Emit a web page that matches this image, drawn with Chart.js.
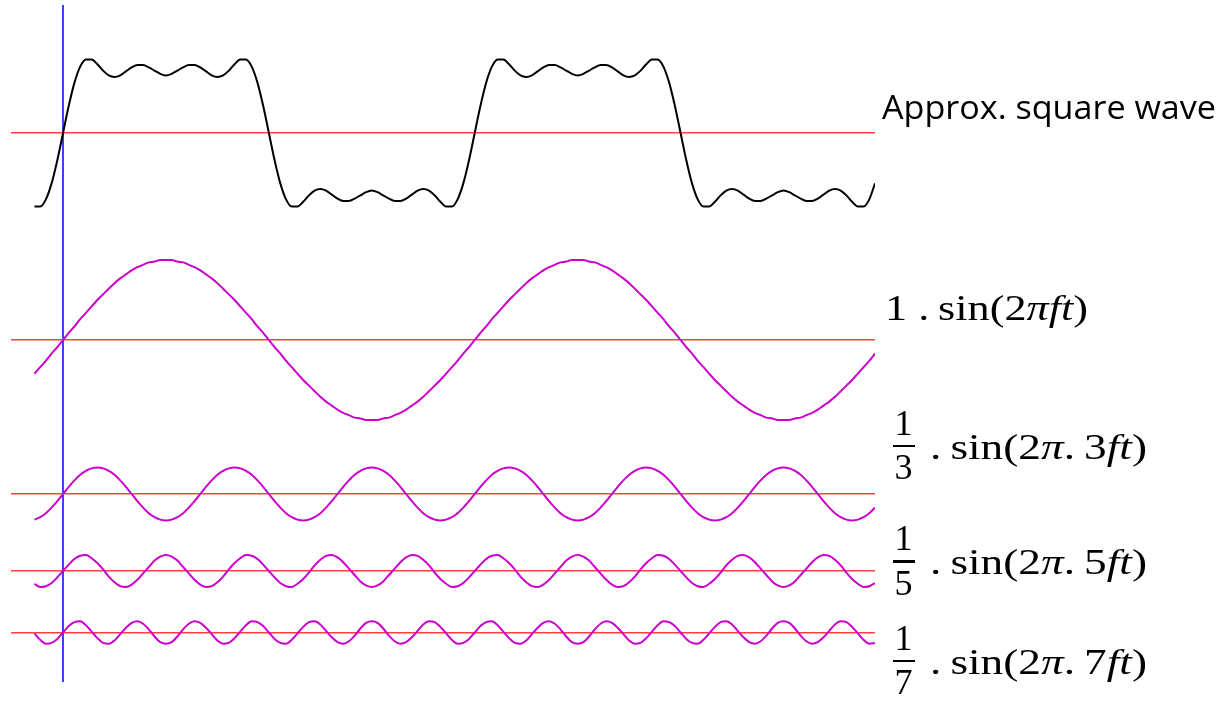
<!DOCTYPE html>
<html>
<head>
<meta charset="utf-8">
<script src="https://cdn.jsdelivr.net/npm/chart.js@4.4.1/dist/chart.umd.min.js"></script>
<style>
  html, body { margin: 0; padding: 0; background: #fff; }
  #wrap { position: relative; width: 1226px; height: 705px; overflow: hidden; }
  #wrap canvas { position: absolute; left: 0; top: 0; }
  .lbl { position: absolute; white-space: nowrap; line-height: 1; transform-origin: 0 0; color: #000; }
  .sans { font-family: "Open Sans", Lato, sans-serif; font-size: 33px; }
  .math { font-family: "Liberation Serif", "DejaVu Serif", serif; font-size: 36px; }
  .math i { font-style: italic; }
  .bl { display: inline-block; width: 0; height: 0; }
  .bar { position: absolute; background: #000; }
</style>
</head>
<body>
<div id="wrap"><canvas id="chart" width="1226" height="705"></canvas></div>
<script>
// phase in degrees of the fundamental (blue marker sits at 0)
const phaseDeg = [
  -25, -20, -15, -10, -5,
  0, 5, 10, 15, 20, 25, 30, 35, 40, 45, 50, 55, 60, 65, 70, 75, 80, 85, 90, 95, 100, 105, 110, 115, 120, 125, 130, 135, 140, 145, 150, 155, 160, 165, 170, 175,
  180, 185, 190, 195, 200, 205, 210, 215, 220, 225, 230, 235, 240, 245, 250, 255, 260, 265, 270, 275, 280, 285, 290, 295, 300, 305, 310, 315, 320, 325, 330, 335, 340, 345, 350, 355,
  360, 365, 370, 375, 380, 385, 390, 395, 400, 405, 410, 415, 420, 425, 430, 435, 440, 445, 450, 455, 460, 465, 470, 475, 480, 485, 490, 495, 500, 505, 510, 515, 520, 525, 530, 535,
  540, 545, 550, 555, 560, 565, 570, 575, 580, 585, 590, 595, 600, 605, 610, 615, 620, 625, 630, 635, 640, 645, 650, 655, 660, 665, 670, 675, 680, 685, 690, 695, 700, 705, 710
];

// approx. square wave (sum of the four harmonics)
const squareWave = [
  -.92, -.92, -.83, -.63, -.34,
  0, .34, .63, .83, .92, .92, .86, .78, .72, .7, .72, .77, .82, .85, .85, .82, .78, .74, .72, .74, .78, .82, .85, .85, .82, .77, .72, .7, .72, .78, .86, .92, .92, .83, .63, .34,
  0, -.34, -.63, -.83, -.92, -.92, -.86, -.78, -.72, -.7, -.72, -.77, -.82, -.85, -.85, -.82, -.78, -.74, -.72, -.74, -.78, -.82, -.85, -.85, -.82, -.77, -.72, -.7, -.72, -.78, -.86, -.92, -.92, -.83, -.63, -.34,
  0, .34, .63, .83, .92, .92, .86, .78, .72, .7, .72, .77, .82, .85, .85, .82, .78, .74, .72, .74, .78, .82, .85, .85, .82, .77, .72, .7, .72, .78, .86, .92, .92, .83, .63, .34,
  0, -.34, -.63, -.83, -.92, -.92, -.86, -.78, -.72, -.7, -.72, -.77, -.82, -.85, -.85, -.82, -.78, -.74, -.72, -.74, -.78, -.82, -.85, -.85, -.82, -.77, -.72, -.7, -.72, -.78, -.86, -.92, -.92, -.83, -.63
];

// 1 . sin(2πft)
const harm1 = [
  -.42, -.34, -.26, -.17, -.09,
  0, .09, .17, .26, .34, .42, .5, .57, .64, .71, .77, .82, .87, .91, .94, .97, .98, 1, 1, 1, .98, .97, .94, .91, .87, .82, .77, .71, .64, .57, .5, .42, .34, .26, .17, .09,
  0, -.09, -.17, -.26, -.34, -.42, -.5, -.57, -.64, -.71, -.77, -.82, -.87, -.91, -.94, -.97, -.98, -1, -1, -1, -.98, -.97, -.94, -.91, -.87, -.82, -.77, -.71, -.64, -.57, -.5, -.42, -.34, -.26, -.17, -.09,
  0, .09, .17, .26, .34, .42, .5, .57, .64, .71, .77, .82, .87, .91, .94, .97, .98, 1, 1, 1, .98, .97, .94, .91, .87, .82, .77, .71, .64, .57, .5, .42, .34, .26, .17, .09,
  0, -.09, -.17, -.26, -.34, -.42, -.5, -.57, -.64, -.71, -.77, -.82, -.87, -.91, -.94, -.97, -.98, -1, -1, -1, -.98, -.97, -.94, -.91, -.87, -.82, -.77, -.71, -.64, -.57, -.5, -.42, -.34, -.26, -.17
];

// 1/3 . sin(2π.3ft)
const harm3 = [
  -.32, -.29, -.24, -.17, -.09,
  0, .09, .17, .24, .29, .32, .33, .32, .29, .24, .17, .09, 0, -.09, -.17, -.24, -.29, -.32, -.33, -.32, -.29, -.24, -.17, -.09, 0, .09, .17, .24, .29, .32, .33, .32, .29, .24, .17, .09,
  0, -.09, -.17, -.24, -.29, -.32, -.33, -.32, -.29, -.24, -.17, -.09, 0, .09, .17, .24, .29, .32, .33, .32, .29, .24, .17, .09, 0, -.09, -.17, -.24, -.29, -.32, -.33, -.32, -.29, -.24, -.17, -.09,
  0, .09, .17, .24, .29, .32, .33, .32, .29, .24, .17, .09, 0, -.09, -.17, -.24, -.29, -.32, -.33, -.32, -.29, -.24, -.17, -.09, 0, .09, .17, .24, .29, .32, .33, .32, .29, .24, .17, .09,
  0, -.09, -.17, -.24, -.29, -.32, -.33, -.32, -.29, -.24, -.17, -.09, 0, .09, .17, .24, .29, .32, .33, .32, .29, .24, .17, .09, 0, -.09, -.17, -.24, -.29, -.32, -.33, -.32, -.29, -.24, -.17
];

// 1/5 . sin(2π.5ft)
const harm5 = [
  -.16, -.2, -.19, -.15, -.08,
  0, .08, .15, .19, .2, .16, .1, .02, -.07, -.14, -.19, -.2, -.17, -.11, -.03, .05, .13, .18, .2, .18, .13, .05, -.03, -.11, -.17, -.2, -.19, -.14, -.07, .02, .1, .16, .2, .19, .15, .08,
  0, -.08, -.15, -.19, -.2, -.16, -.1, -.02, .07, .14, .19, .2, .17, .11, .03, -.05, -.13, -.18, -.2, -.18, -.13, -.05, .03, .11, .17, .2, .19, .14, .07, -.02, -.1, -.16, -.2, -.19, -.15, -.08,
  0, .08, .15, .19, .2, .16, .1, .02, -.07, -.14, -.19, -.2, -.17, -.11, -.03, .05, .13, .18, .2, .18, .13, .05, -.03, -.11, -.17, -.2, -.19, -.14, -.07, .02, .1, .16, .2, .19, .15, .08,
  0, -.08, -.15, -.19, -.2, -.16, -.1, -.02, .07, .14, .19, .2, .17, .11, .03, -.05, -.13, -.18, -.2, -.18, -.13, -.05, .03, .11, .17, .2, .19, .14, .07, -.02, -.1, -.16, -.2, -.19, -.15
];

// 1/7 . sin(2π.7ft)
const harm7 = [
  -.01, -.09, -.14, -.13, -.08,
  0, .08, .13, .14, .09, .01, -.07, -.13, -.14, -.1, -.02, .06, .12, .14, .11, .04, -.05, -.12, -.14, -.12, -.05, .04, .11, .14, .12, .06, -.02, -.1, -.14, -.13, -.07, .01, .09, .14, .13, .08,
  0, -.08, -.13, -.14, -.09, -.01, .07, .13, .14, .1, .02, -.06, -.12, -.14, -.11, -.04, .05, .12, .14, .12, .05, -.04, -.11, -.14, -.12, -.06, .02, .1, .14, .13, .07, -.01, -.09, -.14, -.13, -.08,
  0, .08, .13, .14, .09, .01, -.07, -.13, -.14, -.1, -.02, .06, .12, .14, .11, .04, -.05, -.12, -.14, -.12, -.05, .04, .11, .14, .12, .06, -.02, -.1, -.14, -.13, -.07, .01, .09, .14, .13, .08,
  0, -.08, -.13, -.14, -.09, -.01, .07, .13, .14, .1, .02, -.06, -.12, -.14, -.11, -.04, .05, .12, .14, .12, .05, -.04, -.11, -.14, -.12, -.06, .02, .1, .14, .13, .07, -.01, -.09, -.14, -.13
];

const BLACK = "#000000";
const MAGENTA = "#cc00cc";
const RED = "#ff4040";
const BLUE = "#4040ff";

// every trace gets its own (hidden) y axis, all at 80 px per unit,
// so only the zero line moves; the zero line is the red baseline
function traceAxis(min, max) {
  return {
    type: "linear",
    min: min,
    max: max,
    afterBuildTicks: (scale) => { scale.ticks = [{ value: 0 }]; },
    ticks: { display: false },
    grid: { color: RED, lineWidth: 1.5, drawTicks: false },
    border: { display: false },
  };
}

function trace(values, color, axis) {
  return {
    data: phaseDeg.map((x, i) => ({ x: x, y: values[i] })),
    borderColor: color,
    borderWidth: 2,
    pointRadius: 0,
    fill: false,
    cubicInterpolationMode: "monotone",
    yAxisID: axis,
  };
}

new Chart(document.getElementById("chart"), {
  type: "line",
  data: {
    datasets: [
      trace(squareWave, BLACK, "ySq"),
      trace(harm1, MAGENTA, "y1"),
      trace(harm3, MAGENTA, "y3"),
      trace(harm5, MAGENTA, "y5"),
      trace(harm7, MAGENTA, "y7"),
    ],
  },
  options: {
    responsive: false,
    animation: false,
    events: [],
    layout: { autoPadding: false, padding: { left: 11, right: 351, top: 5, bottom: 23 } },
    plugins: { legend: { display: false }, tooltip: { enabled: false } },
    scales: {
      x: {
        type: "linear",
        min: -45.5,
        max: 710,
        z: 1,
        afterBuildTicks: (scale) => { scale.ticks = [{ value: 0 }]; },
        ticks: { display: false },
        grid: { color: BLUE, lineWidth: 2, drawTicks: false },
        border: { display: false },
      },
      ySq: traceAxis(-6.8625, 1.6),
      y1: traceAxis(-4.275, 4.1875),
      y3: traceAxis(-2.35, 6.1125),
      y5: traceAxis(-1.3875, 7.075),
      y7: traceAxis(-0.61875, 7.84375),
    },
  },
});

// ---- text labels on the right ----
const wrap = document.getElementById("wrap");

function addText(html, cls, left, baseline, width, centered) {
  const el = document.createElement("div");
  el.className = "lbl " + cls;
  el.innerHTML = html + '<span class="bl"></span>';
  wrap.appendChild(el);
  el.style.left = "0px";
  el.style.top = "0px";
  const box = el.getBoundingClientRect();
  const probe = el.querySelector(".bl").getBoundingClientRect();
  el.style.top = (baseline - (probe.top - box.top)) + "px";
  if (centered) {
    el.style.left = (left - box.width / 2) + "px";
  } else {
    el.style.left = left + "px";
  }
  if (width) el.style.transform = "scaleX(" + (width / box.width) + ")";
  return el;
}

function addFraction(denominator, sinBaseline) {
  addText("1", "math", 903.5, sinBaseline - 24, 0, true);
  const bar = document.createElement("div");
  bar.className = "bar";
  bar.style.left = "893px";
  bar.style.width = "21.5px";
  bar.style.top = (sinBaseline - 13.75) + "px";
  bar.style.height = "2.5px";
  wrap.appendChild(bar);
  addText(denominator, "math", 903.5, sinBaseline + 20.5, 0, true);
  addText(".&thinsp;sin(2<i>π</i>.&thinsp;" + denominator + "<i>ft</i>)", "math", 930, sinBaseline, 217);
}

function drawLabels() {
  addText("Approx. square wave", "sans", 882, 119, 334);
  addText("1 .&thinsp;sin(2<i>πft</i>)", "math", 885, 319.5, 203);
  addFraction("3", 458.5);
  addFraction("5", 574);
  addFraction("7", 673.5);
}

if (document.fonts && document.fonts.ready) {
  document.fonts.ready.then(drawLabels);
} else {
  drawLabels();
}
</script>
</body>
</html>
